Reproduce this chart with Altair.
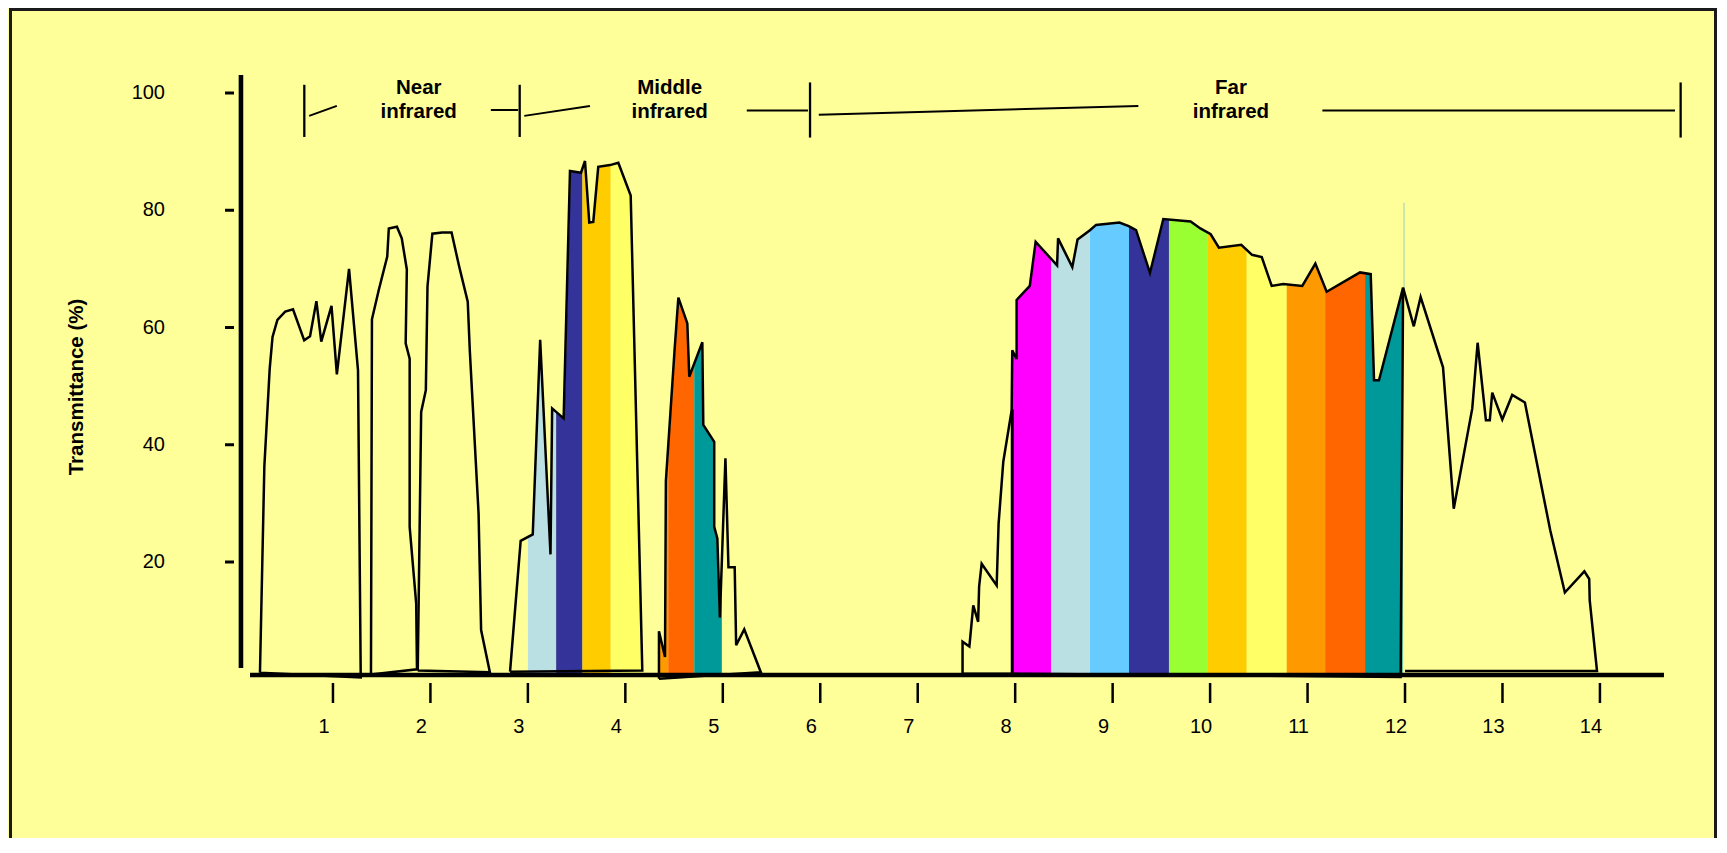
import altair as alt
import pandas as pd

BG = "#FFFF99"
FONT = "Liberation Sans"

# ---------------- data (wavelength in micrometres, transmittance in %) ----------------
A_x = [0.251, 0.296, 0.351, 0.38, 0.43, 0.51, 0.59, 0.705, 0.765, 0.83, 0.88, 0.985, 1.04, 1.165, 1.257, 1.285, 0.251]
A_t = [1.1, 36.3, 53.0, 58.4, 61.3, 62.7, 63.1, 57.8, 58.5, 64.5, 57.6, 63.7, 52.0, 70.0, 52.7, 0.3, 1.1]

B_x = [1.39, 1.40, 1.47, 1.557, 1.573, 1.656, 1.706, 1.758, 1.746, 1.787, 1.787, 1.854, 1.862, 1.39]
B_t = [0.8, 61.4, 66.4, 72.1, 76.9, 77.2, 75.2, 69.9, 57.3, 54.7, 26.0, 12.9, 1.7, 0.8]

C_x = [1.87, 1.905, 1.953, 1.97, 2.02, 2.12, 2.217, 2.295, 2.383, 2.404, 2.494, 2.52, 2.61, 1.87]
C_t = [1.5, 45.6, 49.3, 67.0, 76.0, 76.2, 76.2, 70.4, 64.4, 56.1, 28.3, 8.4, 1.2, 1.5]

D_x = [2.817, 2.926, 3.05, 3.126, 3.232, 3.249, 3.367, 3.432, 3.545, 3.586, 3.63, 3.671, 3.722, 3.842, 3.928, 4.055, 4.174, 2.817]
D_t = [1.3, 23.6, 24.7, 57.9, 21.3, 46.2, 44.5, 86.7, 86.4, 88.4, 77.9, 78.0, 87.4, 87.7, 88.1, 82.5, 1.5, 1.3]

E_x = [4.345, 4.345, 4.407, 4.416, 4.505, 4.544, 4.636, 4.656, 4.79, 4.80, 4.912, 4.912, 4.944, 4.97, 5.027, 5.058, 5.122, 5.137, 5.22, 5.39, 4.345]
E_t = [0.1, 8.2, 3.8, 33.8, 56.1, 65.1, 60.7, 51.6, 57.5, 43.4, 40.5, 26.0, 24.0, 10.5, 37.7, 19.1, 19.1, 5.8, 8.5, 1.2, 0.1]

G_x = [7.46, 7.46, 7.53, 7.57, 7.62, 7.63, 7.656, 7.81, 7.83, 7.878, 7.964, 7.97, 8.015, 8.015, 8.15, 8.21,
       8.43, 8.44, 8.586, 8.64, 8.767, 8.83, 9.07, 9.165, 9.24, 9.383, 9.52, 9.8, 9.9, 10.006, 10.09, 10.32,
       10.43, 10.53, 10.632, 10.75, 10.946, 11.08, 11.196, 11.538, 11.648, 11.682, 11.733, 11.98, 11.955, 7.46]
G_t = [1.0, 6.4, 5.6, 12.6, 9.8, 15.8, 19.7, 16.0, 26.6, 37.1, 45.9, 56.1, 54.6, 64.7, 67.1, 74.6,
       70.6, 75.2, 70.3, 75.0, 76.6, 77.5, 77.9, 77.3, 76.6, 69.3, 78.5, 78.1, 76.9, 75.9, 73.6, 74.1,
       72.4, 72.0, 67.1, 67.4, 67.1, 70.9, 66.1, 69.4, 69.1, 51.0, 51.0, 66.8, 0.4, 1.0]

H_x = [11.98, 12.09, 12.16, 12.39, 12.5, 12.69, 12.745, 12.83, 12.87, 12.895, 12.998, 13.1, 13.23, 13.49, 13.64, 13.84, 13.89, 13.895, 13.97, 12.0]
H_t = [66.8, 60.2, 65.2, 53.2, 29.1, 46.2, 57.4, 44.2, 44.2, 48.9, 44.3, 48.5, 47.2, 25.4, 14.8, 18.4, 17.1, 13.5, 1.4, 1.4]

# top edge (first, last index) of the outlines that carry colour bands
MASK_PARTS = {"D": (0, 16), "E": (0, 19), "G": (11, 43)}

# colour bands (start, end, colour)
band_start = [3.0, 3.29, 3.56, 3.85, 4.345, 4.44, 4.707,
              7.97, 8.368, 8.768, 9.168, 9.578, 9.97, 10.376, 10.786, 11.18, 11.59]
band_end = [3.29, 3.56, 3.85, 4.17, 4.44, 4.707, 4.99,
            8.368, 8.768, 9.168, 9.578, 9.97, 10.376, 10.786, 11.18, 11.59, 11.975]
band_color = ["#BBE0E3", "#333399", "#FFCC00", "#FFFF66", "#FF9900", "#FF6600", "#009999",
              "#FF00FF", "#BBE0E3", "#66CCFF", "#333399", "#99FF33", "#FFCC00", "#FFFF66",
              "#FF9900", "#FF6600", "#009999"]

# straight segments: header brackets, the edge at 8 um, and the two axis lines
seg_x1 = [0.706, 0.756, 2.62, 2.916, 2.963, 5.246, 5.895, 5.985, 11.152, 14.828, 7.97, 0.149, 0.056]
seg_t1 = [92.5, 96.1, 97.1, 92.5, 96.1, 97.0, 92.4, 96.3, 97.0, 92.4, 0.5, 0.725, 1.92]
seg_x2 = [0.706, 1.04, 2.90, 2.916, 3.637, 5.874, 5.895, 9.264, 14.77, 14.828, 7.97, 14.657, 0.056]
seg_t2 = [101.4, 97.8, 97.1, 101.4, 97.8, 97.0, 101.8, 97.8, 97.0, 101.8, 46.0, 0.725, 103.07]
seg_w = [2.3, 2.0, 2.0, 2.3, 2.0, 2.0, 2.3, 2.0, 2.0, 2.3, 3.0, 4.6, 4.6]

hair_x = [11.99]
hair_t1 = [66.8]
hair_t2 = [81.3]

lab_text = ["Near", "infrared", "Middle", "infrared", "Far", "infrared"]
lab_x = [1.88, 1.88, 4.455, 4.455, 10.214, 10.214]
lab_t = [99.9, 95.8, 99.9, 95.8, 99.9, 95.8]

x_ticks = list(range(1, 15))
y_ticks = [20, 40, 60, 80, 100]
y_title = "Transmittance (%)"

# ---------------- layout ----------------
W, H = 1709, 830
X0_PX, X_PER = 227.5, 97.46      # plot pixel of 0 um, pixels per um
Y0_PX, Y_PER = 671.25, 5.8625    # plot pixel of 0 %, pixels per %

XS = alt.Scale(domain=[-X0_PX / X_PER, (W - X0_PX) / X_PER], nice=False, zero=False)
YS = alt.Scale(domain=[(Y0_PX - H) / Y_PER, Y0_PX / Y_PER], nice=False, zero=False)


def px_x(p):   # plot pixel -> um (for guide placement)
    return (p - X0_PX) / X_PER


def px_y(p):   # plot pixel -> %
    return (Y0_PX - p) / Y_PER


rows = []
for name, (xs, ts) in {"A": (A_x, A_t), "B": (B_x, B_t), "C": (C_x, C_t), "D": (D_x, D_t),
                       "E": (E_x, E_t), "G": (G_x, G_t), "H": (H_x, H_t)}.items():
    for i, (x, t) in enumerate(zip(xs, ts)):
        rows.append({"w": name, "i": i, "x": float(x), "t": float(t)})
outline = pd.DataFrame(rows)

mask_frames = {}
for name, (a, b) in MASK_PARTS.items():
    sub = [r for r in rows if r["w"] == name and a <= r["i"] <= b]
    mask_frames[name] = pd.DataFrame({"x": [r["x"] for r in sub], "t": [r["t"] for r in sub],
                                      "top": [95.0] * len(sub)})

bands = pd.DataFrame({"x1": band_start, "x2": band_end, "c": band_color,
                      "lo": [0.5] * len(band_start), "hi": [90.0] * len(band_start)})
segs = pd.DataFrame({"x1": seg_x1, "t1": seg_t1, "x2": seg_x2, "t2": seg_t2, "sw": seg_w})
hair = pd.DataFrame({"x": hair_x, "t1": hair_t1, "t2": hair_t2})
labels = pd.DataFrame({"txt": lab_text, "x": lab_x, "t": lab_t})
one = pd.DataFrame({"a": [0]})

# guides drawn through the scales
xt = pd.DataFrame({"v": x_ticks, "lab": [str(v) for v in x_ticks],
                   "t1": [px_y(675.0)] * len(x_ticks), "t2": [px_y(695.0)] * len(x_ticks),
                   "tl": [px_y(718.5)] * len(x_ticks)})
yt = pd.DataFrame({"v": y_ticks, "lab": [str(v) for v in y_ticks],
                   "x1": [px_x(217.0)] * len(y_ticks), "x2": [px_x(226.0)] * len(y_ticks),
                   "xl": [px_x(157.0)] * len(y_ticks)})
ytitle = pd.DataFrame({"txt": [y_title], "x": [px_x(69.0)], "t": [px_y(379.0)]})


def X(f):
    return alt.X(f, type="quantitative", scale=XS, axis=None)


def Y(f):
    return alt.Y(f, type="quantitative", scale=YS, axis=None)


frame = [
    alt.Chart(one).mark_rule(color="#1a1a1a", strokeWidth=3).encode(
        x=alt.value(2.5), y=alt.value(0), y2=alt.value(H)),
    alt.Chart(one).mark_rule(color="#1a1a1a", strokeWidth=3).encode(
        x=alt.value(1), x2=alt.value(W - 1), y=alt.value(1.5)),
    alt.Chart(one).mark_rule(color="#1a1a1a", strokeWidth=3).encode(
        x=alt.value(W - 1.5), y=alt.value(0), y2=alt.value(H)),
]

band_layer = alt.Chart(bands).mark_rect(strokeWidth=0).encode(
    x=X("x1"), x2="x2:Q", y=Y("lo"), y2="hi:Q",
    color=alt.Color("c:N", scale=None))

mask_layers = [
    alt.Chart(df).mark_area(fill=BG, fillOpacity=1, stroke=BG, strokeWidth=1.5).encode(
        x=X("x"), y=Y("t"), y2=alt.Y2("top:Q"))
    for df in mask_frames.values()
]

hair_layer = alt.Chart(hair).mark_rule(color="#9CCFB4", strokeWidth=1).encode(
    x=X("x"), y=Y("t1"), y2="t2:Q")

outline_layer = alt.Chart(outline).mark_line(color="black", strokeWidth=2.5).encode(
    x=X("x"), y=Y("t"), detail="w:N", order="i:Q")

seg_layer = alt.Chart(segs).mark_rule(color="black").encode(
    x=X("x1"), x2="x2:Q", y=Y("t1"), y2="t2:Q",
    strokeWidth=alt.StrokeWidth("sw:Q", scale=None))

text_layer = alt.Chart(labels).mark_text(font=FONT, fontSize=20.5, fontWeight="bold",
                                         align="center", baseline="alphabetic",
                                         color="black").encode(
    x=X("x"), y=Y("t"), text="txt:N")

xtick_layer = alt.Chart(xt).mark_rule(color="black", strokeWidth=2.5).encode(
    x=X("v"), y=Y("t1"), y2="t2:Q")
xlab_layer = alt.Chart(xt).mark_text(font=FONT, fontSize=20, color="black", align="center",
                                     baseline="middle", dx=-9).encode(
    x=X("v"), y=Y("tl"), text="lab:N")
ytick_layer = alt.Chart(yt).mark_rule(color="black", strokeWidth=3).encode(
    x=X("x1"), x2="x2:Q", y=Y("v"))
ylab_layer = alt.Chart(yt).mark_text(font=FONT, fontSize=20, color="black", align="right",
                                     baseline="middle").encode(
    x=X("xl"), y=Y("v"), text="lab:N")
ytitle_layer = alt.Chart(ytitle).mark_text(font=FONT, fontSize=20.5, fontWeight="bold",
                                           color="black", align="center", baseline="middle",
                                           angle=270).encode(
    x=X("x"), y=Y("t"), text="txt:N")

chart = alt.layer(
    *frame, band_layer, *mask_layers, hair_layer, outline_layer, seg_layer, text_layer,
    xtick_layer, xlab_layer, ytick_layer, ylab_layer, ytitle_layer
).properties(
    width=W, height=H, padding={"left": 0, "top": 0, "right": 0, "bottom": 0},
    autosize=alt.AutoSizeParams(type="none"), background=BG
).configure_view(stroke=None)

chart.save("out.html", embed_options={"renderer": "svg", "actions": False})
